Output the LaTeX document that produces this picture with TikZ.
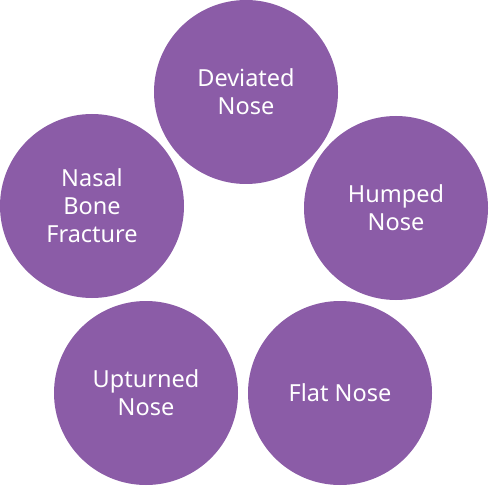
\documentclass[tikz,border=0pt]{standalone}
\usepackage{fontspec}
\setmainfont{Noto Sans}
\definecolor{nosepurple}{RGB}{139,92,167}
\begin{document}
\begin{tikzpicture}[x=1pt,y=-1pt,
  bubble/.style={circle,fill=nosepurple,minimum size=184pt,inner sep=0pt,
    text=white,align=center,font=\fontsize{23.5}{28}\selectfont}]
\useasboundingbox (0,0) rectangle (489,486);
\node[bubble] (dev) at (246,92) {Deviated\\Nose};
\node[bubble] (hum) at (396,208) {Humped\\Nose};
\node[bubble] (flat) at (340,393) {Flat Nose};
\node[bubble] (up) at (146,393) {Upturned\\Nose};
\node[bubble] (nas) at (92,206) {Nasal\\Bone\\Fracture};
\end{tikzpicture}
\end{document}
